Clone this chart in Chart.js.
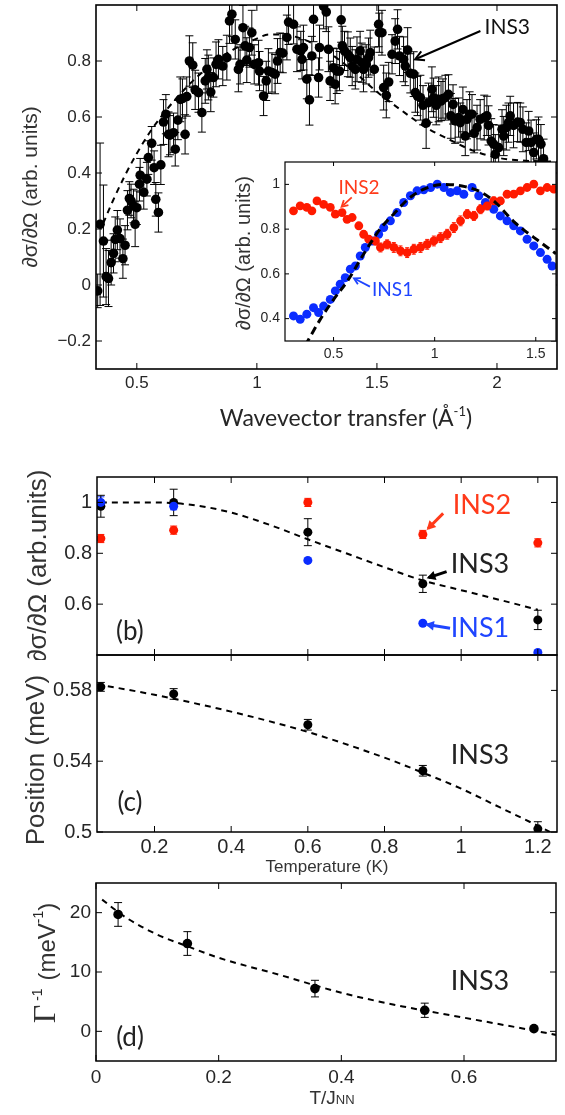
<!DOCTYPE html>
<html>
<head>
<meta charset="utf-8">
<script src="https://cdn.jsdelivr.net/npm/chart.js@4.4.1/dist/chart.umd.min.js"></script>
<style>
body { margin: 0; background: #fff; }
#page { position: relative; width: 565px; height: 1115px; overflow: hidden; }
canvas { position: absolute; }
</style>
</head>
<body>
<div id="page">
  <canvas id="scanChart" width="565" height="440" style="left:0;top:0"></canvas>
  <canvas id="insetChart" width="340" height="225" style="left:225px;top:150px"></canvas>
  <canvas id="intensityChart" width="565" height="205" style="left:0;top:455px"></canvas>
  <canvas id="positionChart" width="565" height="230" style="left:0;top:650px"></canvas>
  <canvas id="widthChart" width="565" height="245" style="left:0;top:870px"></canvas>
</div>
<script>
// ---- top panel: INS3 scan, [Q, intensity, error]
const ins3Scan = [
  [0.337, -0.021, 0.06], [0.347, 0.217, 0.29], [0.361, 0.157, 0.20], [0.372, 0.030, 0.10],
  [0.382, 0.023, 0.10], [0.393, 0.080, 0.08], [0.403, 0.113, 0.07], [0.410, 0.163, 0.08],
  [0.419, 0.196, 0.07], [0.430, 0.166, 0.07], [0.442, 0.094, 0.07], [0.451, 0.142, 0.07],
  [0.461, 0.267, 0.07], [0.469, 0.309, 0.06], [0.476, 0.300, 0.06], [0.486, 0.282, 0.06],
  [0.493, 0.217, 0.08], [0.500, 0.276, 0.06], [0.511, 0.360, 0.06], [0.514, 0.392, 0.06],
  [0.529, 0.331, 0.06], [0.542, 0.378, 0.06], [0.548, 0.455, 0.06], [0.562, 0.506, 0.06],
  [0.572, 0.419, 0.06], [0.579, 0.306, 0.06], [0.590, 0.259, 0.07], [0.600, 0.429, 0.07],
  [0.611, 0.582, 0.08], [0.621, 0.610, 0.07], [0.632, 0.538, 0.08], [0.638, 0.535, 0.07],
  [0.653, 0.544, 0.07], [0.660, 0.485, 0.06], [0.671, 0.589, 0.07], [0.681, 0.663, 0.08],
  [0.690, 0.666, 0.07], [0.701, 0.538, 0.07], [0.708, 0.673, 0.07], [0.719, 0.800, 0.09],
  [0.733, 0.785, 0.08], [0.743, 0.697, 0.07], [0.757, 0.687, 0.07], [0.771, 0.616, 0.07],
  [0.785, 0.729, 0.08], [0.792, 0.770, 0.07], [0.798, 0.741, 0.08], [0.808, 0.689, 0.07],
  [0.819, 0.741, 0.07], [0.830, 0.788, 0.08], [0.840, 0.806, 0.07], [0.858, 0.782, 0.07],
  [0.875, 0.812, 0.08], [0.886, 0.943, 0.08], [0.896, 0.967, 0.08], [0.910, 0.877, 0.07],
  [0.923, 0.770, 0.08], [0.930, 0.788, 0.07], [0.942, 0.919, 0.08], [0.951, 0.854, 0.07],
  [0.958, 0.803, 0.08], [0.969, 0.848, 0.07], [0.979, 0.901, 0.08], [0.989, 0.788, 0.07],
  [1.007, 0.794, 0.08], [1.011, 0.764, 0.07], [1.028, 0.675, 0.07], [1.039, 0.729, 0.07],
  [1.048, 0.764, 0.08], [1.063, 0.759, 0.07], [1.076, 0.753, 0.07], [1.086, 0.800, 0.08],
  [1.097, 0.830, 0.07], [1.108, 0.828, 0.07], [1.125, 0.884, 0.08], [1.132, 0.939, 0.08],
  [1.153, 0.931, 0.07], [1.167, 0.842, 0.08], [1.183, 0.836, 0.07], [1.188, 0.806, 0.07],
  [1.194, 0.848, 0.08], [1.208, 0.735, 0.07], [1.219, 0.661, 0.09], [1.229, 0.818, 0.07],
  [1.236, 0.949, 0.08], [1.257, 0.741, 0.07], [1.261, 0.848, 0.08], [1.278, 0.995, 0.08],
  [1.289, 0.975, 0.07], [1.298, 0.842, 0.08], [1.305, 0.729, 0.07], [1.319, 0.776, 0.07],
  [1.326, 0.717, 0.07], [1.333, 0.764, 0.08], [1.344, 0.764, 0.07], [1.351, 0.947, 0.08],
  [1.356, 0.854, 0.07], [1.365, 0.836, 0.07], [1.379, 0.824, 0.08], [1.389, 0.812, 0.07],
  [1.397, 0.782, 0.07], [1.410, 0.770, 0.07], [1.417, 0.806, 0.08], [1.430, 0.836, 0.07],
  [1.437, 0.794, 0.07], [1.444, 0.770, 0.08], [1.455, 0.788, 0.07], [1.465, 0.812, 0.07],
  [1.472, 0.830, 0.08], [1.489, 0.770, 0.08], [1.507, 0.931, 0.08], [1.510, 0.901, 0.07],
  [1.521, 0.901, 0.08], [1.528, 0.705, 0.08], [1.539, 0.677, 0.08], [1.549, 0.725, 0.07],
  [1.563, 0.824, 0.07], [1.576, 0.871, 0.08], [1.586, 0.913, 0.07], [1.594, 0.818, 0.07],
  [1.611, 0.806, 0.08], [1.618, 0.782, 0.07], [1.628, 0.839, 0.08], [1.639, 0.756, 0.07],
  [1.653, 0.753, 0.08], [1.660, 0.687, 0.07], [1.669, 0.675, 0.07], [1.681, 0.669, 0.08],
  [1.692, 0.642, 0.07], [1.705, 0.578, 0.09], [1.715, 0.651, 0.07], [1.729, 0.699, 0.08],
  [1.736, 0.669, 0.07], [1.747, 0.642, 0.07], [1.757, 0.663, 0.08], [1.767, 0.657, 0.07],
  [1.775, 0.666, 0.07], [1.785, 0.669, 0.08], [1.798, 0.681, 0.07], [1.808, 0.604, 0.08],
  [1.817, 0.645, 0.07], [1.826, 0.586, 0.08], [1.840, 0.598, 0.07], [1.847, 0.580, 0.07],
  [1.858, 0.627, 0.08], [1.868, 0.532, 0.07], [1.875, 0.592, 0.07], [1.886, 0.610, 0.08],
  [1.896, 0.610, 0.07], [1.905, 0.542, 0.07], [1.917, 0.562, 0.08], [1.930, 0.592, 0.07],
  [1.947, 0.598, 0.08], [1.958, 0.604, 0.07], [1.965, 0.570, 0.07], [1.976, 0.514, 0.08],
  [1.986, 0.503, 0.07], [1.993, 0.467, 0.07], [2.007, 0.491, 0.08], [2.021, 0.556, 0.07],
  [2.028, 0.532, 0.07], [2.039, 0.562, 0.08], [2.048, 0.580, 0.07], [2.055, 0.604, 0.07],
  [2.069, 0.570, 0.08], [2.086, 0.582, 0.07], [2.097, 0.580, 0.07], [2.108, 0.556, 0.08],
  [2.122, 0.509, 0.07], [2.132, 0.550, 0.07], [2.142, 0.509, 0.08], [2.153, 0.473, 0.07],
  [2.164, 0.520, 0.07], [2.173, 0.520, 0.08], [2.183, 0.503, 0.07], [2.194, 0.451, 0.07]
];
const ins3Fit = [
  [0.36, 0.22], [0.40, 0.30], [0.45, 0.39], [0.50, 0.47], [0.55, 0.54], [0.60, 0.60],
  [0.70, 0.70], [0.80, 0.78], [0.90, 0.84], [1.00, 0.88], [1.05, 0.895], [1.10, 0.895],
  [1.20, 0.875], [1.30, 0.83], [1.40, 0.765], [1.50, 0.69], [1.60, 0.625], [1.70, 0.565],
  [1.80, 0.52], [1.90, 0.48], [2.00, 0.455], [2.10, 0.445], [2.25, 0.44]
];
const qTicks = [0.5, 1, 1.5, 2];
const scanTicks = [-0.2, 0, 0.2, 0.4, 0.6, 0.8];

// ---- inset: INS1 and INS2 scans
const ins1Scan = [
  [0.302, 0.412], [0.335, 0.397], [0.368, 0.420], [0.401, 0.449], [0.426, 0.427], [0.451, 0.456],
  [0.484, 0.486], [0.509, 0.524], [0.533, 0.554], [0.558, 0.583], [0.583, 0.621], [0.608, 0.635],
  [0.632, 0.680], [0.657, 0.718], [0.690, 0.747], [0.723, 0.777], [0.748, 0.807], [0.781, 0.837],
  [0.814, 0.874], [0.847, 0.919], [0.880, 0.949], [0.913, 0.971], [0.946, 0.976], [0.980, 0.986],
  [1.013, 1.001], [1.046, 0.986], [1.078, 0.964], [1.111, 0.971], [1.144, 0.956], [1.185, 0.986],
  [1.218, 0.949], [1.251, 0.919], [1.292, 0.889], [1.325, 0.859], [1.358, 0.837], [1.391, 0.815],
  [1.424, 0.792], [1.457, 0.755], [1.490, 0.725], [1.523, 0.695], [1.556, 0.665], [1.581, 0.635]
];
const ins2Scan = [
  [0.302, 0.882, 0.010], [0.335, 0.904, 0.010], [0.368, 0.897, 0.010], [0.393, 0.882, 0.010],
  [0.418, 0.926, 0.010], [0.451, 0.911, 0.010], [0.484, 0.897, 0.010], [0.509, 0.867, 0.010],
  [0.542, 0.874, 0.012], [0.567, 0.844, 0.012], [0.592, 0.852, 0.012], [0.625, 0.815, 0.014],
  [0.649, 0.777, 0.015], [0.674, 0.755, 0.016], [0.707, 0.747, 0.018], [0.732, 0.718, 0.020],
  [0.765, 0.732, 0.020], [0.798, 0.718, 0.022], [0.831, 0.703, 0.022], [0.864, 0.695, 0.022],
  [0.897, 0.710, 0.022], [0.930, 0.718, 0.022], [0.963, 0.732, 0.022], [0.996, 0.747, 0.022],
  [1.029, 0.762, 0.022], [1.062, 0.777, 0.022], [1.095, 0.807, 0.022], [1.128, 0.837, 0.022],
  [1.161, 0.867, 0.020], [1.194, 0.859, 0.020], [1.227, 0.889, 0.020], [1.260, 0.904, 0.018],
  [1.292, 0.926, 0.018], [1.325, 0.926, 0.016], [1.358, 0.956, 0.016], [1.391, 0.956, 0.015],
  [1.424, 0.971, 0.014], [1.457, 0.986, 0.014], [1.490, 1.001, 0.014], [1.523, 0.971, 0.012],
  [1.556, 0.986, 0.012], [1.589, 0.979, 0.012]
];
const insetFit = [
  [0.36, 0.28], [0.43, 0.39], [0.50, 0.485], [0.57, 0.57], [0.65, 0.69], [0.73, 0.80],
  [0.80, 0.87], [0.87, 0.935], [0.95, 0.98], [1.05, 1.0], [1.15, 0.99], [1.23, 0.965],
  [1.30, 0.92], [1.39, 0.835], [1.45, 0.79], [1.51, 0.75], [1.60, 0.69]
];
const insetQTicks = [0.5, 1, 1.5];
const insetTicks = [0.4, 0.6, 0.8, 1];

// ---- (b) and (c): temperature dependence
const temps = [0.06, 0.25, 0.6, 0.9, 1.2];
const ins3Int = [0.985, 1.0, 0.883, 0.68, 0.538];
const ins3IntErr = [0.043, 0.052, 0.053, 0.034, 0.038];
const ins2Int = [0.858, 0.891, 1.0, 0.874, 0.841];
const ins2IntErr = [0.016, 0.016, 0.016, 0.016, 0.016];
const ins1Int = [1.0, 0.985, 0.772, 0.525, 0.41];
const ins1IntErr = [0.022, 0.014, 0.0, 0.0, 0.0];
const intFitT = [0.06, 0.1, 0.2, 0.3, 0.4, 0.5, 0.6, 0.7, 0.8, 0.9, 1.0, 1.1, 1.2];
const intFit = [1.0, 1.0, 1.0, 0.99, 0.96, 0.912, 0.855, 0.80, 0.745, 0.693, 0.655, 0.617, 0.578];
const tTicks = [0.2, 0.4, 0.6, 0.8, 1, 1.2];
const intTicks = [0.6, 0.8, 1];

const ins3Pos = [0.582, 0.578, 0.5606, 0.5346, 0.5018];
const ins3PosErr = [0.0025, 0.003, 0.003, 0.003, 0.004];
const posFitT = [0.05, 0.2, 0.4, 0.6, 0.8, 0.9, 1.0, 1.1, 1.2, 1.25];
const posFit = [0.5835, 0.5775, 0.568, 0.5565, 0.542, 0.5335, 0.5245, 0.514, 0.5035, 0.498];
const posTicks = [0.5, 0.54, 0.58];

// ---- (d): inverse width vs T/J
const tOverJ = [0.036, 0.149, 0.357, 0.536, 0.714];
const invWidth = [19.7, 14.8, 7.2, 3.55, 0.45];
const invWidthErr = [2.0, 2.0, 1.4, 1.2, 0.0];
const widthFitX = [0.01, 0.035, 0.05, 0.1, 0.15, 0.2, 0.3, 0.4, 0.5, 0.6, 0.7, 0.75];
const widthFit = [22.2, 20.2, 19.1, 16.3, 14.3, 12.4, 9.5, 6.5, 4.2, 2.3, 0.4, -0.6];
const ratioTicks = [0, 0.2, 0.4, 0.6];
const invWidthTicks = [0, 10, 20];

const RED = '#ff1a00';
const BLUE = '#0a2cff';
const INK = '#262626';
const SANS = '"Liberation Sans", Arial, sans-serif';
const GILL = 'Lato, "Open Sans", sans-serif';

function pairs(xs, ys) {
  return xs.map((v, i) => ({ x: v, y: ys[i] }));
}

function fmtTick(v) {
  return String(v).replace('-', '\u2212');
}

function axis(min, max, tickValues, size, fontSize, pad, showLabels) {
  return {
    type: 'linear', min: min, max: max,
    grid: { display: false, drawTicks: false },
    border: { display: false },
    ticks: {
      display: showLabels, padding: pad, color: INK, maxRotation: 0, autoSkip: false,
      font: { family: SANS, size: fontSize },
      callback: v => fmtTick(v)
    },
    afterBuildTicks: s => { s.ticks = tickValues.map(v => ({ value: v })); },
    afterFit: s => {
      if (s.isHorizontal()) s.height = size; else s.width = size;
      s.paddingLeft = s.paddingRight = s.paddingTop = s.paddingBottom = 0;
    }
  };
}

function options(pad, x, y) {
  return {
    responsive: false, animation: false, events: [],
    layout: { padding: pad },
    plugins: { legend: { display: false }, tooltip: { enabled: false } },
    scales: { x: x, y: y }
  };
}

function dots(data, color, r, errors, cap) {
  return {
    data: data, errors: errors, capWidth: cap || 8, errorColor: color,
    showLine: false, pointRadius: r, pointBackgroundColor: color, pointBorderWidth: 0
  };
}

function dashed(data, width, dash) {
  return {
    data: data, showLine: true, pointRadius: 0, borderColor: '#000', borderWidth: width,
    borderDash: dash, cubicInterpolationMode: 'monotone', fill: false
  };
}

// vertical error bars from dataset.errors
const errorBars = {
  id: 'errorBars',
  beforeDatasetsDraw(chart) {
    const { ctx, chartArea: a, scales: { x, y } } = chart;
    ctx.save();
    ctx.beginPath();
    ctx.rect(a.left, a.top, a.right - a.left, a.bottom - a.top);
    ctx.clip();
    chart.data.datasets.forEach(ds => {
      if (!ds.errors) return;
      ctx.strokeStyle = ds.errorColor;
      ctx.lineWidth = 1;
      const c = ds.capWidth / 2;
      ds.data.forEach((p, i) => {
        const e = ds.errors[i];
        if (!e) return;
        const px = x.getPixelForValue(p.x);
        const y1 = y.getPixelForValue(p.y - e);
        const y2 = y.getPixelForValue(p.y + e);
        ctx.beginPath();
        ctx.moveTo(px, y1); ctx.lineTo(px, y2);
        ctx.moveTo(px - c, y1); ctx.lineTo(px + c, y1);
        ctx.moveTo(px - c, y2); ctx.lineTo(px + c, y2);
        ctx.stroke();
      });
    });
    ctx.restore();
  }
};

function drawRuns(ctx, t) {
  ctx.save();
  ctx.translate(t.x, t.y);
  if (t.rot) ctx.rotate(t.rot);
  ctx.textAlign = 'left';
  ctx.textBaseline = 'alphabetic';
  let total = 0;
  t.runs.forEach(r => { ctx.font = r.font; total += ctx.measureText(r.text).width; });
  let cx = -total / 2;
  t.runs.forEach(r => {
    ctx.font = r.font;
    ctx.fillStyle = r.color || INK;
    ctx.fillText(r.text, cx, r.dy || 0);
    cx += ctx.measureText(r.text).width;
  });
  ctx.restore();
}

// frame with inward ticks, arrows and notes (data units), axis titles (canvas pixels)
function decor(spec) {
  return {
    id: 'decor',
    beforeDraw(chart) {
      if (!spec.paper) return;
      const a = chart.chartArea;
      chart.ctx.save();
      chart.ctx.fillStyle = '#fff';
      chart.ctx.fillRect(a.left, a.top, a.right - a.left, a.bottom - a.top);
      chart.ctx.restore();
    },
    afterDraw(chart) {
      const { ctx, chartArea: a, scales: { x, y } } = chart;
      const tl = spec.tick || 5;
      ctx.save();
      ctx.strokeStyle = '#000';
      ctx.lineWidth = 1;
      ctx.beginPath();
      x.ticks.forEach(t => {
        const p = x.getPixelForValue(t.value);
        ctx.moveTo(p, a.bottom); ctx.lineTo(p, a.bottom - tl);
        ctx.moveTo(p, a.top); ctx.lineTo(p, a.top + tl);
      });
      y.ticks.forEach(t => {
        const p = y.getPixelForValue(t.value);
        ctx.moveTo(a.left, p); ctx.lineTo(a.left + tl, p);
        ctx.moveTo(a.right, p); ctx.lineTo(a.right - tl, p);
      });
      ctx.stroke();
      ctx.lineWidth = spec.frame || 1.5;
      ctx.strokeRect(a.left, a.top, a.right - a.left, a.bottom - a.top);

      (spec.arrows || []).forEach(ar => {
        const x1 = x.getPixelForValue(ar.from[0]), y1 = y.getPixelForValue(ar.from[1]);
        const x2 = x.getPixelForValue(ar.to[0]), y2 = y.getPixelForValue(ar.to[1]);
        const ang = Math.atan2(y2 - y1, x2 - x1), h = ar.head;
        ctx.strokeStyle = ar.color;
        ctx.fillStyle = ar.color;
        ctx.lineWidth = ar.width;
        ctx.beginPath();
        ctx.moveTo(x1, y1); ctx.lineTo(x2 - Math.cos(ang) * 2, y2 - Math.sin(ang) * 2);
        ctx.stroke();
        ctx.beginPath();
        ctx.moveTo(x2 - h * Math.cos(ang - 0.5), y2 - h * Math.sin(ang - 0.5));
        ctx.lineTo(x2, y2);
        ctx.lineTo(x2 - h * Math.cos(ang + 0.5), y2 - h * Math.sin(ang + 0.5));
        if (ar.filled) { ctx.closePath(); ctx.fill(); } else ctx.stroke();
      });

      ctx.textAlign = 'center';
      ctx.textBaseline = 'middle';
      (spec.notes || []).forEach(n => {
        ctx.font = n.font;
        ctx.fillStyle = n.color || INK;
        ctx.fillText(n.text, x.getPixelForValue(n.x), y.getPixelForValue(n.y));
      });

      (spec.titles || []).forEach(t => drawRuns(ctx, t));
      ctx.restore();
    }
  };
}

const UP = -Math.PI / 2;

// ---- top panel
new Chart(document.getElementById('scanChart'), {
  type: 'scatter',
  data: {
    datasets: [
      dots(ins3Scan.map(p => ({ x: p[0], y: p[1] })), '#000', 4.8, ins3Scan.map(p => p[2]), 8),
      dashed(ins3Fit.map(p => ({ x: p[0], y: p[1] })), 2, [6, 5])
    ]
  },
  options: options({ top: 5, right: 8, left: 0, bottom: 0 },
    axis(0.33, 2.25, qTicks, 71, 17, 4, true),
    axis(-0.3, 1.0, scanTicks, 96, 17, 5, true)),
  plugins: [errorBars, decor({
    tick: 6, frame: 1.6,
    notes: [{ text: 'INS3', x: 2.043, y: 0.92, font: '21px ' + GILL, color: '#111' }],
    arrows: [{ from: [1.931, 0.907], to: [1.659, 0.806], color: '#000', width: 2, head: 10 }],
    titles: [
      { x: 37, y: 187, rot: UP, runs: [{ text: '\u2202\u03c3/\u2202\u03a9 (arb. units)', font: '21px ' + SANS, color: '#333' }] },
      { x: 346, y: 426, runs: [
        { text: 'Wavevector transfer (\u00c5', font: '23px ' + GILL },
        { text: '-1', font: '13px ' + GILL, dy: -10 },
        { text: ')', font: '23px ' + GILL }
      ] }
    ]
  })]
});

// ---- inset
new Chart(document.getElementById('insetChart'), {
  type: 'scatter',
  data: {
    datasets: [
      dashed(insetFit.map(p => ({ x: p[0], y: p[1] })), 3, [8, 5]),
      dots(ins2Scan.map(p => ({ x: p[0], y: p[1] })), RED, 4.4, ins2Scan.map(p => p[2]), 4),
      dots(ins1Scan.map(p => ({ x: p[0], y: p[1] })), BLUE, 4.5)
    ]
  },
  options: options({ top: 12, right: 9, left: 0, bottom: 0 },
    axis(0.26, 1.6, insetQTicks, 34, 14, 5, true),
    axis(0.3, 1.1, insetTicks, 60, 14, 5, true)),
  plugins: [errorBars, decor({
    paper: true, tick: 4, frame: 1.2,
    notes: [
      { text: 'INS2', x: 0.626, y: 0.984, font: '19px ' + GILL, color: '#ff3a1a' },
      { text: 'INS1', x: 0.792, y: 0.528, font: '19px ' + GILL, color: '#1f45ff' }
    ],
    arrows: [
      { from: [0.590, 0.942], to: [0.540, 0.900], color: '#ff3a1a', width: 1.8, head: 7 },
      { from: [0.680, 0.543], to: [0.601, 0.580], color: '#1f45ff', width: 1.8, head: 7 }
    ],
    titles: [
      { x: 25, y: 103, rot: UP, runs: [{ text: '\u2202\u03c3/\u2202\u03a9 (arb. units)', font: '20px ' + SANS, color: '#333' }] }
    ]
  })]
});

// ---- (b) intensity vs temperature
new Chart(document.getElementById('intensityChart'), {
  type: 'scatter',
  data: {
    datasets: [
      dots(pairs(temps, ins1Int), BLUE, 4.5, ins1IntErr, 7),
      dots(pairs(temps, ins2Int), RED, 4.5, ins2IntErr, 7),
      dots(pairs(temps, ins3Int), '#000', 4.5, ins3IntErr, 8),
      dashed(pairs(intFitT, intFit), 2, [6, 5])
    ]
  },
  options: options({ top: 22, right: 8, left: 0, bottom: 0 },
    axis(0.05, 1.25, tTicks, 5, 20, 3, false),
    axis(0.4, 1.1, intTicks, 97, 20, 5, true)),
  plugins: [errorBars, decor({
    tick: 6, frame: 1.5,
    notes: [
      { text: 'INS2', x: 1.054, y: 0.99, font: '27px ' + GILL, color: '#ff3a1a' },
      { text: 'INS3', x: 1.049, y: 0.758, font: '27px ' + GILL, color: '#222' },
      { text: 'INS1', x: 1.049, y: 0.505, font: '27px ' + GILL, color: '#1f45ff' },
      { text: '(b)', x: 0.136, y: 0.492, font: '26px ' + GILL, color: '#222' }
    ],
    arrows: [
      { from: [0.953, 0.957], to: [0.910, 0.892], color: '#ff3a1a', width: 3, head: 10, filled: true },
      { from: [0.962, 0.728], to: [0.910, 0.702], color: '#000', width: 3, head: 10, filled: true },
      { from: [0.971, 0.505], to: [0.906, 0.521], color: '#1f45ff', width: 3, head: 10, filled: true }
    ],
    titles: [
      { x: 46, y: 111, rot: UP, runs: [{ text: '\u2202\u03c3/\u2202\u03a9 (arb.units)', font: '26px ' + SANS, color: '#333' }] }
    ]
  })]
});

// ---- (c) position vs temperature
new Chart(document.getElementById('positionChart'), {
  type: 'scatter',
  data: {
    datasets: [
      dots(pairs(temps, ins3Pos), '#000', 4.5, ins3PosErr, 8),
      dashed(pairs(posFitT, posFit), 2, [6, 5])
    ]
  },
  options: options({ top: 5, right: 8, left: 0, bottom: 0 },
    axis(0.05, 1.25, tTicks, 48, 20, 3, true),
    axis(0.5, 0.6, posTicks, 97, 20, 5, true)),
  plugins: [errorBars, decor({
    tick: 6, frame: 1.5,
    notes: [
      { text: 'INS3', x: 1.049, y: 0.5435, font: '27px ' + GILL, color: '#222' },
      { text: '(c)', x: 0.136, y: 0.5164, font: '26px ' + GILL, color: '#222' }
    ],
    titles: [
      { x: 44, y: 110, rot: UP, runs: [{ text: 'Position (meV)', font: '26px ' + SANS, color: '#333' }] },
      { x: 327, y: 222, runs: [{ text: 'Temperature (K)', font: '17px ' + SANS, color: '#333' }] }
    ]
  })]
});

// ---- (d) inverse width vs T/J
new Chart(document.getElementById('widthChart'), {
  type: 'scatter',
  data: {
    datasets: [
      dots(pairs(tOverJ, invWidth), '#000', 4.8, invWidthErr, 8),
      dashed(pairs(widthFitX, widthFit), 2, [6, 5])
    ]
  },
  options: options({ top: 13, right: 9, left: 0, bottom: 0 },
    axis(0, 0.75, ratioTicks, 54, 19, 5, true),
    axis(-5, 25, invWidthTicks, 96, 19, 5, true)),
  plugins: [errorBars, decor({
    tick: 6, frame: 1.5,
    notes: [
      { text: 'INS3', x: 0.626, y: 8.37, font: '27px ' + GILL, color: '#222' },
      { text: '(d)', x: 0.0554, y: -1.12, font: '26px ' + GILL, color: '#222' }
    ],
    titles: [
      { x: 55, y: 93, rot: UP, runs: [
        { text: '\u0393', font: '32px "Liberation Serif", serif', color: '#333' },
        { text: ' -1  ', font: '14px ' + SANS, dy: -13 },
        { text: '(meV', font: '24px ' + SANS, color: '#333' },
        { text: '-1', font: '14px ' + SANS, dy: -12 },
        { text: ')', font: '24px ' + SANS, color: '#333' }
      ] },
      { x: 332, y: 234, runs: [
        { text: 'T/J', font: '19px ' + SANS, color: '#333' },
        { text: 'NN', font: '13px ' + SANS, color: '#333' }
      ] }
    ]
  })]
});
</script>
</body>
</html>
